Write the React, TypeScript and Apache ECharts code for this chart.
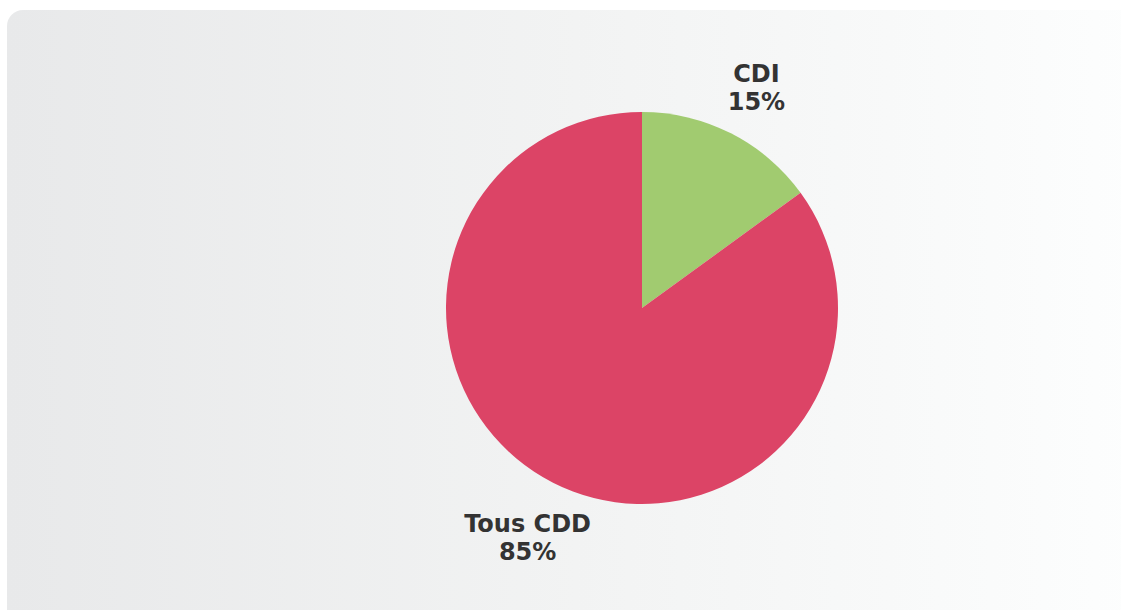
import React, { useEffect, useRef } from "react";
import * as echarts from "echarts";

const categories = ["CDI", "Tous CDD"];
const values = [15, 85];
const colors = ["#a1cb70", "#dc4466"];

const CX = 642;
const CY = 308;
const RADIUS = 196;
const LABEL_R = 252;

export default function App() {
  const ref = useRef<HTMLDivElement>(null);
  useEffect(() => {
    if (!ref.current) return;
    const chart = echarts.init(ref.current, undefined, { renderer: "svg" });
    const total = values.reduce((a, b) => a + b, 0);
    chart.setOption({
      animation: false,
      backgroundColor: "#ffffff",
      graphic: [
        {
          type: "rect",
          z: -10,
          silent: true,
          shape: { x: 7, y: 10, width: 1140, height: 640, r: 16 },
          style: {
            fill: new echarts.graphic.LinearGradient(0, 0, 1, 0, [
              { offset: 0, color: "#e8e9ea" },
              { offset: 0.5, color: "#f2f3f3" },
              { offset: 1, color: "#fdfefe" },
            ]),
          },
        },
      ],
      series: [
        {
          type: "pie",
          center: [CX, CY],
          radius: [0, RADIUS],
          startAngle: 90,
          clockwise: true,
          data: categories.map((name, i) => ({
            name,
            value: values[i],
            itemStyle: { color: colors[i] },
          })),
          label: {
            show: true,
            position: "outside",
            formatter: (p: any) => `${p.name}\n${p.value}%`,
            fontFamily: "DejaVu Sans",
            fontWeight: "bold",
            fontSize: 24,
            lineHeight: 28,
            color: "#333333",
            align: "center",
          },
          labelLine: { show: false },
          labelLayout: (params: any) => {
            const i = params.dataIndex;
            let before = 0;
            for (let k = 0; k < i; k++) before += values[k];
            const mid = ((before + values[i] / 2) / total) * Math.PI * 2;
            return {
              x: CX + LABEL_R * Math.sin(mid),
              y: CY - LABEL_R * Math.cos(mid) + 5,
              align: "center",
              verticalAlign: "middle",
            };
          },
          emphasis: { disabled: true },
        },
      ],
    });
    return () => chart.dispose();
  }, []);
  return (
    <div
      ref={ref}
      style={{ position: "fixed", left: 0, top: 0, width: 1121, height: 610 }}
    />
  );
}
